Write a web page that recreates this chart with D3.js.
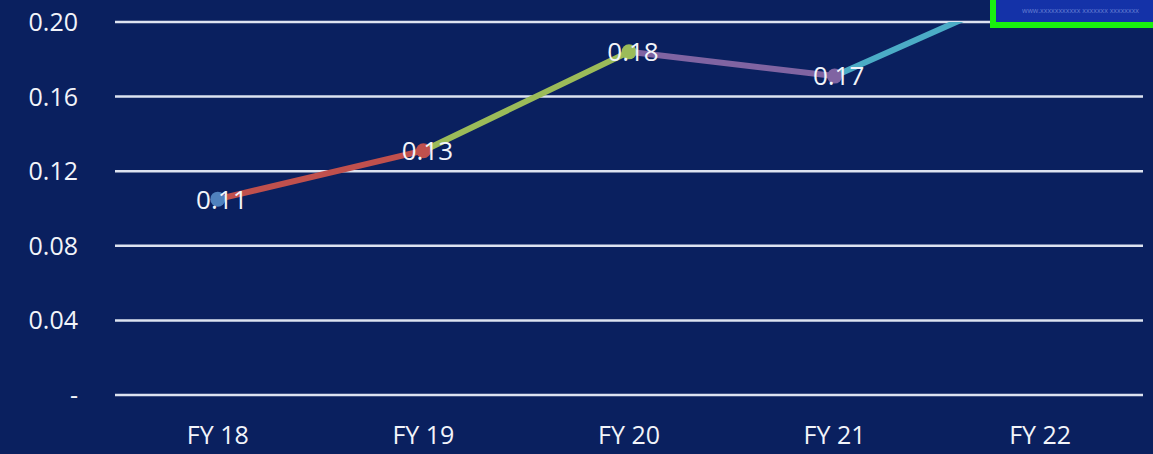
<!DOCTYPE html>
<html>
<head>
<meta charset="utf-8">
<script src="https://cdn.jsdelivr.net/npm/d3@7"></script>
<style>
  html, body { margin: 0; padding: 0; background: #0b1f5c; }
  svg { display: block; }
  text { font-family: "Open Sans", "Noto Sans", sans-serif; fill: #f2f4fa; }
</style>
</head>
<body>
<svg width="1153" height="454"></svg>
<script>
const categories = ['FY 18', 'FY 19', 'FY 20', 'FY 21', 'FY 22'];
const values = [0.105, 0.131, 0.184, 0.171, 0.22];
const labels = ['0.11', '0.13', '0.18', '0.17', '0.22'];
const pointColors = ['#4f81bd', '#c0504d', '#9bbb59', '#8064a2', '#4bacc6'];
const yTicks = [0, 0.04, 0.08, 0.12, 0.16, 0.20];

const svg = d3.select('svg');
const W = 1153, H = 454;

// plot area
const plotLeft = 115, plotRight = 1143, plotTop = 22, plotBottom = 395;

const x = d3.scaleBand().domain(categories).range([plotLeft, plotRight]);
const y = d3.scaleLinear().domain([0, 0.20]).range([plotBottom, plotTop]);

svg.append('rect').attr('width', W).attr('height', H).attr('fill', '#0a205f');

// gridlines
svg.append('g')
  .selectAll('line')
  .data(yTicks)
  .enter().append('line')
  .attr('x1', plotLeft).attr('x2', plotRight)
  .attr('y1', d => y(d)).attr('y2', d => y(d))
  .attr('stroke', '#dde3f0')
  .attr('stroke-width', 2.5);

// y labels
svg.append('g')
  .selectAll('text')
  .data(yTicks)
  .enter().append('text')
  .attr('x', 78)
  .attr('y', d => y(d))
  .attr('dy', '0.36em')
  .attr('text-anchor', 'end')
  .attr('font-size', 25)
  .text(d => d === 0 ? '-' : d.toFixed(2));

// x labels
svg.append('g')
  .selectAll('text')
  .data(categories)
  .enter().append('text')
  .attr('x', d => x(d) + x.bandwidth() / 2)
  .attr('y', 435)
  .attr('dy', '0.36em')
  .attr('text-anchor', 'middle')
  .attr('font-size', 25)
  .text(d => d);

// clip line to the plot area
svg.append('clipPath').attr('id', 'plot')
  .append('rect').attr('x', 0).attr('y', plotTop).attr('width', W).attr('height', H);

const pts = categories.map((c, i) => ({ cx: x(c) + x.bandwidth() / 2, cy: y(values[i]), i }));

const g = svg.append('g').attr('clip-path', 'url(#plot)');

// segments colored by the end point
g.selectAll('line')
  .data(pts.slice(1))
  .enter().append('line')
  .attr('x1', (d, k) => pts[k].cx)
  .attr('y1', (d, k) => pts[k].cy)
  .attr('x2', d => d.cx)
  .attr('y2', d => d.cy)
  .attr('stroke', d => pointColors[d.i])
  .attr('stroke-width', 6)
  .attr('stroke-linecap', 'round');

g.selectAll('circle')
  .data(pts)
  .enter().append('circle')
  .attr('cx', d => d.cx)
  .attr('cy', d => d.cy)
  .attr('r', 7.5)
  .attr('fill', d => pointColors[d.i]);

// data labels (the FY 22 point runs off the top, so its label is not shown)
g.selectAll('text.lbl')
  .data(pts.filter(d => values[d.i] <= y.domain()[1]))
  .enter().append('text')
  .attr('class', 'lbl')
  .attr('x', d => d.cx + 4)
  .attr('y', d => d.cy)
  .attr('dy', '0.36em')
  .attr('text-anchor', 'middle')
  .attr('font-size', 26)
  .text(d => labels[d.i]);

// highlighted box at top right
svg.append('rect')
  .attr('x', 993).attr('y', -5)
  .attr('width', 170).attr('height', 30)
  .attr('fill', '#1432a8')
  .attr('stroke', '#19f00f')
  .attr('stroke-width', 6);

svg.append('text')
  .attr('x', 1022).attr('y', 13)
  .attr('font-size', 7)
  .attr('opacity', 0.55)
  .style('fill', '#9fb2f0')
  .text('www.xxxxxxxxxxx xxxxxxx xxxxxxxx');
</script>
</body>
</html>
